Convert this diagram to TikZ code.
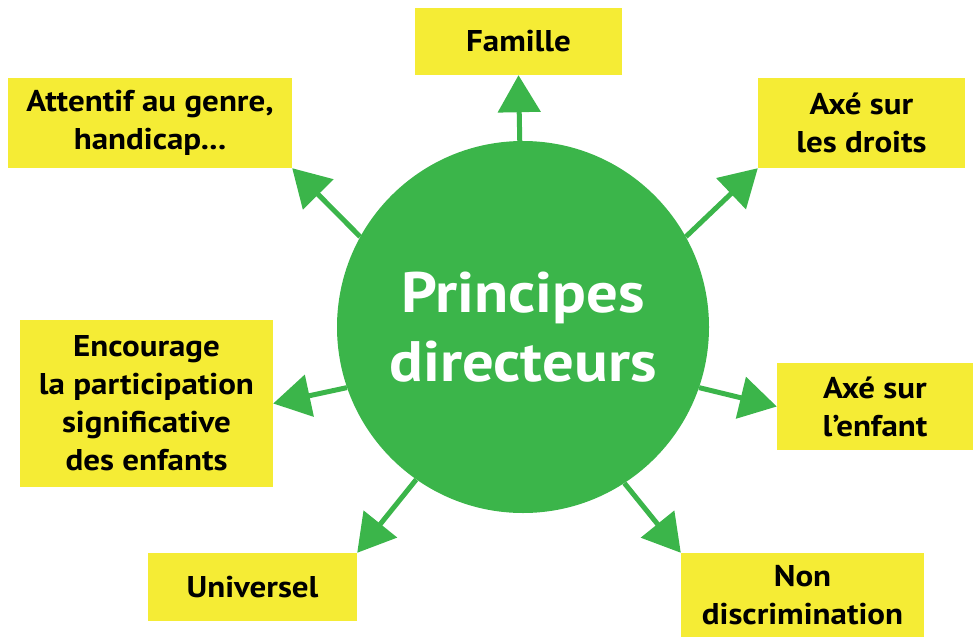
\documentclass[tikz,border=0pt]{standalone}
\usepackage{fontspec}
\setmainfont[FakeStretch=1.1]{PT Sans}
\usetikzlibrary{arrows.meta,backgrounds}
\definecolor{boxyellow}{HTML}{F5EC35}
\definecolor{hubgreen}{HTML}{3BB54A}
\tikzset{box/.style={rectangle, fill=boxyellow, align=center, inner sep=0pt, font=\fontsize{30}{38}\selectfont\bfseries}}
\tikzset{hub/.style={circle, fill=hubgreen, minimum size=372pt, inner sep=0pt, align=center, text=white, font=\fontsize{57}{69}\selectfont\bfseries}}
\tikzset{arrow/.style={draw=hubgreen, line width=5pt, -{Triangle[length=37pt,width=42pt]}}}
\begin{document}
\begin{tikzpicture}[x=1pt,y=-1pt]
\useasboundingbox (0,0) rectangle (973,637);
% central circle
\node[hub] (pc) at (523,327) {Principes\\directeurs};
% the seven principles
\node[box, minimum width=207pt, minimum height=67pt] (famille) at (518.5,41.5) {Famille};
\node[box, minimum width=284pt, minimum height=90pt] (attentif) at (150,123) {Attentif au genre,\\handicap...};
\node[box, minimum width=207pt, minimum height=90pt] (droits) at (861.5,123) {Axé sur\\les droits};
\node[box, minimum width=253pt, minimum height=167pt] (encourage) at (146.5,403.5) {Encourage\\la participation\\significative\\des enfants};
\node[box, minimum width=196pt, minimum height=87pt] (enfant) at (875,406.5) {Axé sur\\l’enfant};
\node[box, minimum width=209pt, minimum height=68pt] (universel) at (252.5,587) {Universel};
\node[box, minimum width=243pt, minimum height=84pt] (nondisc) at (802.5,595) {Non\\discrimination};
% arrows behind the circle
\begin{scope}[on background layer]
\foreach \ang/\tgt in {91/famille.south, 151/attentif.south east, 29/droits.south west, 199/encourage.east, 341/enfant.west, 235/universel.north east, 303/nondisc.north west}
	\draw[arrow] (pc.\ang) -- (\tgt);
\end{scope}
\end{tikzpicture}
\end{document}
